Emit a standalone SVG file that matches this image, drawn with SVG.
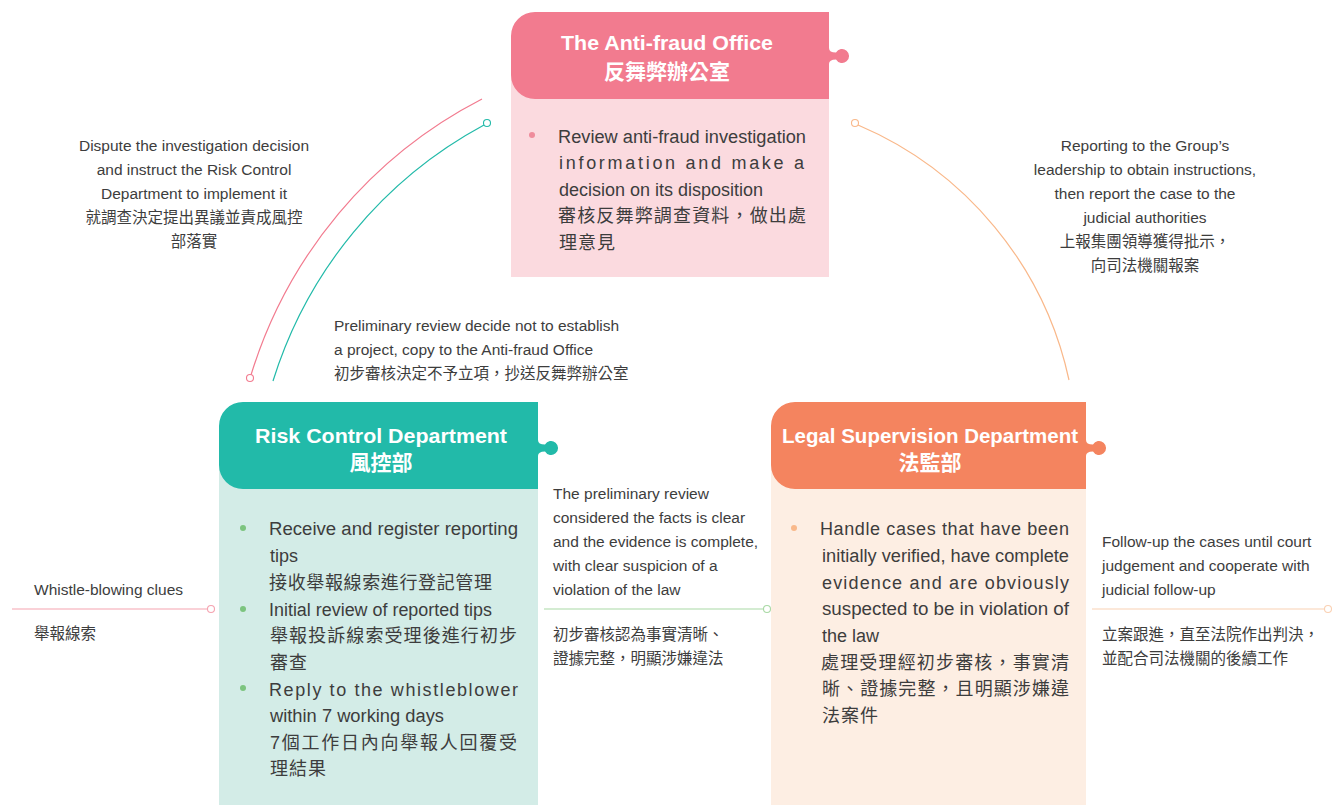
<svg xmlns="http://www.w3.org/2000/svg" width="1335" height="805" viewBox="0 0 1335 805">
<style>
.title{font-family:"Liberation Sans","Noto Sans CJK TC",sans-serif;font-weight:bold;font-size:21px;fill:#fff;text-anchor:middle}
.body{font-family:"Liberation Sans","Noto Sans CJK TC",sans-serif;font-size:18px;fill:#3d3d3d}
.lab{font-family:"Liberation Sans","Noto Sans CJK TC",sans-serif;font-size:15.5px;fill:#3d3d3d}
.mid{text-anchor:middle}
.dot{fill:#fff;stroke-width:1.1}
.conn{fill:none;stroke-width:1.2}
</style>
<rect width="1335" height="805" fill="#fff"/>

<g id="connectors">
  <path class="conn" d="M 482,99 A 463 463 0 0 0 251,375" stroke="#F27B8F"/>
  <circle class="dot" cx="250" cy="378" r="3.5" stroke="#F27B8F"/>
  <path class="conn" d="M 484,125 A 439 439 0 0 0 273,381" stroke="#22BAA9"/>
  <circle class="dot" cx="487" cy="123" r="3.5" stroke="#22BAA9"/>
  <path class="conn" d="M 858,125 A 360 360 0 0 1 1069,380" stroke="#F9B88A"/>
  <circle class="dot" cx="855" cy="123" r="3.5" stroke="#F9B88A"/>
  <line class="conn" x1="12" y1="609" x2="207.5" y2="609" stroke="#F5A3B0"/>
  <circle class="dot" cx="211" cy="609" r="3.5" stroke="#F5A3B0"/>
  <line class="conn" x1="544" y1="609" x2="763.5" y2="609" stroke="#A9D9A5"/>
  <circle class="dot" cx="767" cy="609" r="3.5" stroke="#A9D9A5"/>
  <line class="conn" x1="1092" y1="609" x2="1324.5" y2="609" stroke="#FAD1B3"/>
  <circle class="dot" cx="1328" cy="609" r="3.5" stroke="#FAD1B3"/>
</g>

<g id="label-dispute">
  <text class="lab mid" x="194" y="151">Dispute the investigation decision</text>
  <text class="lab mid" x="194" y="175">and instruct the Risk Control</text>
  <text class="lab mid" x="194" y="199">Department to implement it</text>
  <text class="lab mid" x="194" y="223">就調查決定提出異議並責成風控</text>
  <text class="lab mid" x="194" y="247">部落實</text>
</g>

<g id="label-reporting">
  <text class="lab mid" x="1145" y="151">Reporting to the Group’s</text>
  <text class="lab mid" x="1145" y="175">leadership to obtain instructions,</text>
  <text class="lab mid" x="1145" y="199">then report the case to the</text>
  <text class="lab mid" x="1145" y="223">judicial authorities</text>
  <text class="lab mid" x="1145" y="247">上報集團領導獲得批示，</text>
  <text class="lab mid" x="1145" y="271">向司法機關報案</text>
</g>

<g id="label-preliminary">
  <text class="lab" x="334" y="331">Preliminary review decide not to establish</text>
  <text class="lab" x="334" y="355">a project, copy to the Anti-fraud Office</text>
  <text class="lab" x="334" y="379">初步審核決定不予立項，抄送反舞弊辦公室</text>
</g>

<g id="label-whistle">
  <text class="lab" x="34" y="595">Whistle-blowing clues</text>
  <text class="lab" x="34" y="639">舉報線索</text>
</g>

<g id="label-clear">
  <text class="lab" x="553" y="499">The preliminary review</text>
  <text class="lab" x="553" y="523">considered the facts is clear</text>
  <text class="lab" x="553" y="547">and the evidence is complete,</text>
  <text class="lab" x="553" y="571">with clear suspicion of a</text>
  <text class="lab" x="553" y="595">violation of the law</text>
  <text class="lab" x="553" y="640">初步審核認為事實清晰、</text>
  <text class="lab" x="553" y="664">證據完整，明顯涉嫌違法</text>
</g>

<g id="label-followup">
  <text class="lab" x="1102" y="547">Follow-up the cases until court</text>
  <text class="lab" x="1102" y="571">judgement and cooperate with</text>
  <text class="lab" x="1102" y="595">judicial follow-up</text>
  <text class="lab" x="1102" y="640">立案跟進，直至法院作出判決，</text>
  <text class="lab" x="1102" y="664">並配合司法機關的後續工作</text>
</g>

<g id="node-antifraud">
  <rect x="511" y="60" width="318" height="217" fill="#FBDADF"/>
  <path d="M 535,12 H 829 V 48 Q 829,52.5 836,52.5 A 7 7 0 1 1 836,59.5 Q 829,59.5 829,64 V 99 H 535 A 24 24 0 0 1 511,75 V 36 A 24 24 0 0 1 535,12 Z" fill="#F27B8F"/>
  <text class="title" x="667" y="50" textLength="212" lengthAdjust="spacingAndGlyphs">The Anti-fraud Office</text>
  <text class="title" x="667" y="79">反舞弊辦公室</text>
  <circle cx="532" cy="135" r="3" fill="#EF8C9C"/>
  <text class="body" x="558" y="143" textLength="248" lengthAdjust="spacingAndGlyphs">Review anti-fraud investigation</text>
  <text class="body" x="559" y="169" textLength="245" lengthAdjust="spacing">information and make a</text>
  <text class="body" x="559" y="196">decision on its disposition</text>
  <text class="body" x="558" y="222" textLength="248" lengthAdjust="spacing">審核反舞弊調查資料，做出處</text>
  <text class="body" x="559" y="249" textLength="56" lengthAdjust="spacing">理意見</text>
</g>

<g id="node-riskcontrol">
  <rect x="219" y="450" width="319" height="360" fill="#D3ECE7"/>
  <path d="M 243,402 H 538 V 440 Q 538,444.5 545,444.5 A 7 7 0 1 1 545,451.5 Q 538,451.5 538,456 V 489 H 243 A 24 24 0 0 1 219,465 V 426 A 24 24 0 0 1 243,402 Z" fill="#22BAA9"/>
  <text class="title" x="381" y="443" textLength="252" lengthAdjust="spacingAndGlyphs">Risk Control Department</text>
  <text class="title" x="381" y="470">風控部</text>
  <circle cx="243" cy="528" r="3" fill="#7CC47F"/>
  <circle cx="243" cy="609" r="3" fill="#7CC47F"/>
  <circle cx="243" cy="688" r="3" fill="#7CC47F"/>
  <text class="body" x="269" y="535" textLength="249" lengthAdjust="spacingAndGlyphs">Receive and register reporting</text>
  <text class="body" x="270" y="562">tips</text>
  <text class="body" x="269" y="589" textLength="223" lengthAdjust="spacing">接收舉報線索進行登記管理</text>
  <text class="body" x="269" y="616" textLength="223" lengthAdjust="spacingAndGlyphs">Initial review of reported tips</text>
  <text class="body" x="270" y="642" textLength="247" lengthAdjust="spacing">舉報投訴線索受理後進行初步</text>
  <text class="body" x="270" y="669" textLength="37" lengthAdjust="spacing">審查</text>
  <text class="body" x="269" y="696" textLength="249" lengthAdjust="spacing">Reply to the whistleblower</text>
  <text class="body" x="270" y="722" textLength="174" lengthAdjust="spacingAndGlyphs">within 7 working days</text>
  <text class="body" x="270" y="749" textLength="247" lengthAdjust="spacing">7個工作日內向舉報人回覆受</text>
  <text class="body" x="270" y="775" textLength="56" lengthAdjust="spacing">理結果</text>
</g>

<g id="node-legal">
  <rect x="771" y="450" width="315" height="360" fill="#FDEEE3"/>
  <path d="M 795,402 H 1086 V 440 Q 1086,444.5 1093,444.5 A 7 7 0 1 1 1093,451.5 Q 1086,451.5 1086,456 V 489 H 795 A 24 24 0 0 1 771,465 V 426 A 24 24 0 0 1 795,402 Z" fill="#F4845F"/>
  <text class="title" x="930" y="443" textLength="296" lengthAdjust="spacingAndGlyphs">Legal Supervision Department</text>
  <text class="title" x="930" y="470">法監部</text>
  <circle cx="794" cy="528" r="3" fill="#F9B88A"/>
  <text class="body" x="820" y="535" textLength="249" lengthAdjust="spacing">Handle cases that have been</text>
  <text class="body" x="822" y="562" textLength="247" lengthAdjust="spacingAndGlyphs">initially verified, have complete</text>
  <text class="body" x="822" y="589" textLength="247" lengthAdjust="spacing">evidence and are obviously</text>
  <text class="body" x="822" y="615" textLength="247" lengthAdjust="spacingAndGlyphs">suspected to be in violation of</text>
  <text class="body" x="822" y="642">the law</text>
  <text class="body" x="821" y="669" textLength="248" lengthAdjust="spacing">處理受理經初步審核，事實清</text>
  <text class="body" x="822" y="695" textLength="247" lengthAdjust="spacing">晰、證據完整，且明顯涉嫌違</text>
  <text class="body" x="822" y="722" textLength="56" lengthAdjust="spacing">法案件</text>
</g>
</svg>
